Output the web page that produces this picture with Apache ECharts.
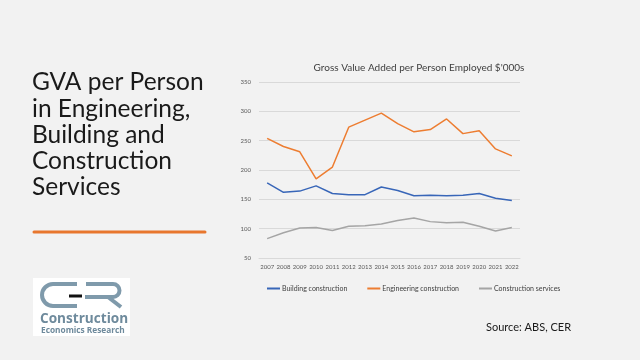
<!DOCTYPE html>
<html><head><meta charset="utf-8">
<script src="https://cdn.jsdelivr.net/npm/echarts@6/dist/echarts.min.js"></script>
<style>html,body{margin:0;padding:0;background:#f2f2f2}#c{width:640px;height:360px}</style>
</head><body><div id="c"></div>
<script>
const years = ['2007','2008','2009','2010','2011','2012','2013','2014','2015','2016','2017','2018','2019','2020','2021','2022'];
const building = [178,162,164,173,160,158,158,171,165,156,157,156,157,160,152,148];
const engineering = [254,240,231,185,205,273,285,297,279,265,269,287,262,267,236,224];
const services = [83,93,101,102,97,104,105,108,114,118,112,110,111,104,96,102];
const seriesNames = ['Building construction','Engineering construction','Construction services'];
const titleLines = ['GVA per Person','in Engineering,','Building and','Construction','Services'];

const chart = echarts.init(document.getElementById('c'));
const logoC = '#7f9aab';
const graphics = titleLines.map((t,i)=>({type:'text',x:32,y:70+i*26.2,style:{text:t,font:'24.5px Lato',fill:'#1a1a1a'}}));
graphics.push({type:'line',shape:{x1:34,y1:232,x2:205,y2:232},style:{stroke:'#e8772e',lineWidth:3,lineCap:'round'}});
graphics.push({type:'rect',shape:{x:33,y:278,width:97,height:58},style:{fill:'#ffffff'}});
graphics.push({type:'line',shape:{x1:53,y1:284,x2:77,y2:284},style:{stroke:logoC,lineWidth:4}});
graphics.push({type:'line',shape:{x1:53,y1:306,x2:77,y2:306},style:{stroke:logoC,lineWidth:4}});
graphics.push({type:'arc',shape:{cx:53,cy:295,r:11,startAngle:Math.PI/2,endAngle:Math.PI*3/2,clockwise:true},style:{stroke:logoC,lineWidth:4,fill:null}});
graphics.push({type:'line',shape:{x1:69,y1:296,x2:82,y2:296},style:{stroke:'#111',lineWidth:3}});
graphics.push({type:'line',shape:{x1:86,y1:284,x2:113,y2:284},style:{stroke:logoC,lineWidth:4}});
graphics.push({type:'arc',shape:{cx:113,cy:290.5,r:6.5,startAngle:-Math.PI/2,endAngle:Math.PI/2,clockwise:true},style:{stroke:logoC,lineWidth:4,fill:null}});
graphics.push({type:'line',shape:{x1:85,y1:297,x2:113,y2:297},style:{stroke:logoC,lineWidth:4}});
graphics.push({type:'line',shape:{x1:108,y1:297,x2:121,y2:307},style:{stroke:logoC,lineWidth:4}});
graphics.push({type:'text',x:40,y:312,style:{text:'Construction',font:'bold 13.6px "Open Sans"',fill:'#6e8a9c'}});
graphics.push({type:'text',x:41,y:327,style:{text:'Economics Research',font:'bold 8.3px "Open Sans"',fill:'#6e8a9c'}});
graphics.push({type:'text',x:486,y:322,style:{text:'Source: ABS, CER',font:'11px Lato',fill:'#1a1a1a'}});

chart.setOption({
  backgroundColor:'#f2f2f2',
  animation:false,
  title:{text:"Gross Value Added per Person Employed $'000s",left:414,textAlign:'center',top:58,textStyle:{fontFamily:'Lato',fontSize:10,fontWeight:'normal',color:'#404040'}},
  grid:{left:259,right:120,top:82,bottom:102},
  legend:{top:280,left:262,itemWidth:13,itemHeight:2,itemGap:20,icon:'rect',textStyle:{fontFamily:'Lato',fontSize:7,color:'#404040',padding:[0,0,0,-3]},data:seriesNames},
  xAxis:{type:'category',data:years,boundaryGap:true,axisTick:{show:false},axisLine:{lineStyle:{color:'#d9d9d9'}},axisLabel:{interval:0,fontFamily:'Lato',fontSize:6,color:'#595959',margin:6}},
  yAxis:{type:'value',min:50,max:350,interval:50,axisLabel:{fontFamily:'Lato',fontSize:6,color:'#595959',margin:8},splitLine:{lineStyle:{color:'#d9d9d9'}}},
  graphic:graphics,
  series:[
    {name:seriesNames[0],type:'line',data:building,showSymbol:false,lineStyle:{width:1.5,color:'#3866b8'},itemStyle:{color:'#3866b8'}},
    {name:seriesNames[1],type:'line',data:engineering,showSymbol:false,lineStyle:{width:1.5,color:'#ed7d31'},itemStyle:{color:'#ed7d31'}},
    {name:seriesNames[2],type:'line',data:services,showSymbol:false,lineStyle:{width:1.5,color:'#a5a5a5'},itemStyle:{color:'#a5a5a5'}}
  ]
});
</script></body></html>
